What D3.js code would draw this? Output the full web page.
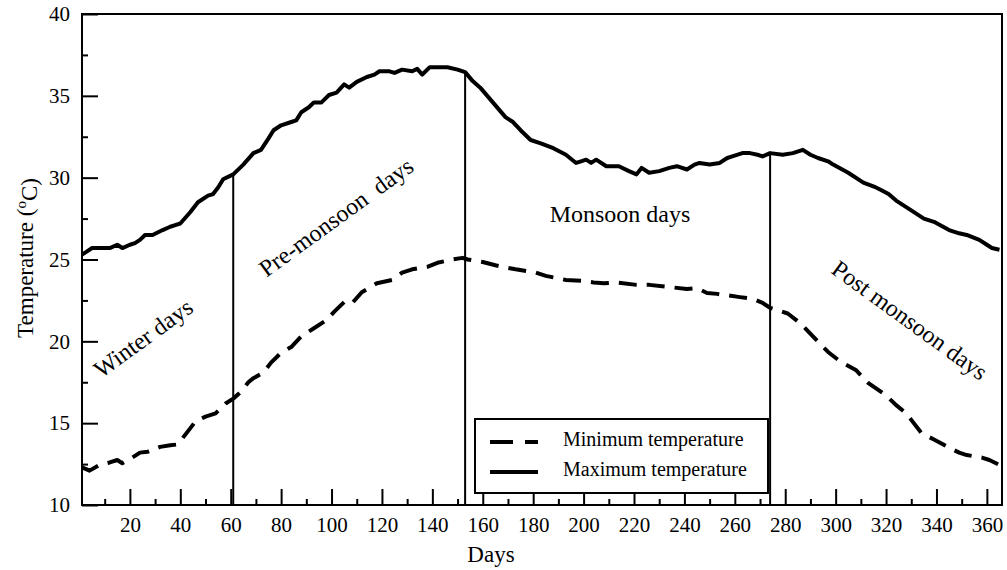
<!DOCTYPE html>
<html>
<head>
<meta charset="utf-8">
<script src="https://cdn.jsdelivr.net/npm/d3@7"></script>
<style>
  body { margin: 0; background: #fff; }
  text { font-family: "Liberation Serif", "Times New Roman", serif; fill: #000; }
</style>
</head>
<body>
<div id="chart"></div>
<script>
// values
var maxDays = [1, 3, 5, 9, 12, 15, 17, 20, 22, 24, 26, 29, 33, 36, 38, 40, 44, 47, 51, 53, 55, 57, 61, 65, 69, 72, 75, 77, 80, 84, 86, 88, 91, 93, 96, 99, 102, 105, 107, 110, 114, 117, 119, 123, 125, 128, 132, 134, 136, 139, 143, 146, 150, 153, 156, 159, 164, 169, 172, 175, 179, 183, 188, 193, 197, 199, 201, 203, 205, 209, 214, 218, 221, 223, 226, 230, 234, 237, 241, 244, 246, 250, 254, 257, 259, 263, 266, 269, 271, 274, 279, 283, 287, 290, 293, 297, 299, 305, 311, 316, 318, 321, 324, 330, 335, 339, 345, 349, 352, 357, 360, 362, 365];
var maxTemp = [25.3, 25.5, 25.7, 25.7, 25.7, 25.9, 25.7, 25.9, 26.0, 26.2, 26.5, 26.5, 26.8, 27.0, 27.1, 27.2, 27.9, 28.5, 28.9, 29.0, 29.4, 29.9, 30.2, 30.8, 31.5, 31.7, 32.4, 32.9, 33.2, 33.4, 33.5, 34.0, 34.3, 34.6, 34.6, 35.05, 35.2, 35.7, 35.5, 35.85, 36.15, 36.3, 36.5, 36.5, 36.4, 36.6, 36.5, 36.65, 36.3, 36.75, 36.75, 36.75, 36.6, 36.45, 35.9, 35.5, 34.6, 33.7, 33.4, 32.9, 32.3, 32.1, 31.8, 31.4, 30.9, 31.0, 31.1, 30.9, 31.1, 30.7, 30.7, 30.4, 30.2, 30.6, 30.3, 30.4, 30.6, 30.7, 30.5, 30.8, 30.9, 30.8, 30.9, 31.2, 31.3, 31.5, 31.5, 31.4, 31.3, 31.5, 31.4, 31.5, 31.7, 31.4, 31.2, 31.0, 30.8, 30.3, 29.7, 29.4, 29.25, 29.0, 28.6, 28.0, 27.5, 27.3, 26.8, 26.6, 26.5, 26.2, 25.9, 25.7, 25.6];

var minDays = [1, 4, 8, 12, 15, 17, 21, 24, 27, 32, 36, 39, 42, 46, 50, 54, 58, 61, 64, 67, 69, 73, 76, 80, 84, 88, 93, 98, 101, 105, 108, 112, 118, 124, 128, 132, 136, 138, 142, 148, 152, 154, 160, 165, 168, 173, 181, 185, 193, 199, 204, 208, 213, 221, 226, 235, 241, 245, 249, 253, 262, 267, 271, 274, 281, 286, 291, 297, 302, 308, 313, 320, 324, 328, 330, 334, 339, 345, 349, 352, 358, 361, 365];
var minTemp = [12.3, 12.1, 12.45, 12.6, 12.75, 12.55, 12.9, 13.2, 13.25, 13.55, 13.65, 13.7, 14.3, 15.1, 15.4, 15.6, 16.2, 16.5, 16.9, 17.5, 17.75, 18.1, 18.7, 19.3, 19.65, 20.3, 20.8, 21.3, 21.8, 22.4, 22.3, 23.0, 23.55, 23.75, 24.2, 24.4, 24.5, 24.55, 24.8, 25.0, 25.1, 25.0, 24.85, 24.65, 24.55, 24.4, 24.2, 24.0, 23.75, 23.7, 23.6, 23.55, 23.6, 23.45, 23.45, 23.3, 23.2, 23.25, 22.95, 22.9, 22.7, 22.6, 22.35, 22.05, 21.7, 21.1, 20.3, 19.35, 18.75, 18.25, 17.45, 16.7, 16.1, 15.6, 15.2, 14.4, 14.0, 13.5, 13.2, 13.05, 12.9, 12.75, 12.45];

// season boundaries (day) and the max temperature where each line stops
var seasonDays = [61, 153, 274];
var seasonTops = [30.2, 36.45, 31.5];

var xTicks = d3.range(20, 361, 20);
var xMinor = d3.range(10, 361, 20);
var yTicks = d3.range(10, 41, 5);
var yMinor = d3.range(12.5, 40, 5);

var width = 1007, height = 570;
var plotL = 82, plotR = 1002, plotT = 14, plotB = 505;

var svg = d3.select("#chart").append("svg").attr("width", width).attr("height", height);

var x = d3.scaleLinear().domain([1, 366]).range([plotL, plotR]);
var y = d3.scaleLinear().domain([10, 40]).range([plotB, plotT]);

// axes, ticks pointing inward
svg.append("g").attr("transform", "translate(0," + plotB + ")")
    .call(d3.axisBottom(x).tickValues(xTicks).tickSizeInner(-16).tickSizeOuter(0).tickPadding(12));
svg.append("g").attr("transform", "translate(0," + plotB + ")")
    .call(d3.axisBottom(x).tickValues(xMinor).tickSizeInner(-6).tickSizeOuter(0).tickFormat(""));
svg.append("g").attr("transform", "translate(" + plotL + ",0)")
    .call(d3.axisLeft(y).tickValues(yTicks).tickSizeInner(-16).tickSizeOuter(0).tickPadding(12));
svg.append("g").attr("transform", "translate(" + plotL + ",0)")
    .call(d3.axisLeft(y).tickValues(yMinor).tickSizeInner(-6).tickSizeOuter(0).tickFormat(""));

svg.selectAll(".domain").remove();
svg.selectAll(".tick line").attr("stroke", "#000").attr("stroke-width", 2);
svg.selectAll(".tick text").style("font-family", "'Liberation Serif', serif").style("font-size", "21px").attr("fill", "#000");

// frame
svg.append("rect")
    .attr("x", plotL).attr("y", plotT)
    .attr("width", plotR - plotL).attr("height", plotB - plotT)
    .attr("fill", "none").attr("stroke", "#000").attr("stroke-width", 2);

// season lines
svg.append("g").selectAll("line").data(seasonDays).enter().append("line")
    .attr("x1", function(d){ return x(d); })
    .attr("x2", function(d){ return x(d); })
    .attr("y1", function(d, i){ return y(seasonTops[i]); })
    .attr("y2", plotB)
    .attr("stroke", "#000").attr("stroke-width", 2);

var line = d3.line()
    .x(function(d){ return x(d[0]); })
    .y(function(d){ return y(d[1]); });

svg.append("path")
    .datum(d3.zip(maxDays, maxTemp))
    .attr("d", line)
    .attr("fill", "none").attr("stroke", "#000").attr("stroke-width", 4)
    .attr("stroke-linejoin", "round");

svg.append("path")
    .datum(d3.zip(minDays, minTemp))
    .attr("d", line)
    .attr("fill", "none").attr("stroke", "#000").attr("stroke-width", 4)
    .attr("stroke-dasharray", "18,10")
    .attr("stroke-linejoin", "round");

// season labels
function label(txt, cx, cy, angle){
  svg.append("text")
      .attr("transform", "translate(" + cx + "," + cy + ") rotate(" + angle + ")")
      .attr("text-anchor", "middle")
      .attr("dy", "0.35em")
      .style("font-size", "24px")
      .style("white-space", "pre")
      .text(txt);
}
label("Winter days", 143, 338, -36);
label("Pre-monsoon  days", 336, 217, -36);
label("Monsoon days", 620, 214, 0);
label("Post monsoon days", 910, 320, 36);

// axis titles
svg.append("text")
    .attr("x", 491).attr("y", 562)
    .attr("text-anchor", "middle")
    .style("font-size", "23px")
    .text("Days");

var yt = svg.append("text")
    .attr("transform", "translate(33,258) rotate(-90)")
    .attr("text-anchor", "middle")
    .style("font-size", "23px");
yt.append("tspan").text("Temperature (");
yt.append("tspan").attr("dy", "-0.45em").style("font-size", "15px").text("o");
yt.append("tspan").attr("dy", "0.45em").text("C)");

// legend
var lg = svg.append("g");
lg.append("rect")
    .attr("x", 475).attr("y", 419).attr("width", 293).attr("height", 74)
    .attr("fill", "#fff").attr("stroke", "#000").attr("stroke-width", 2);
lg.append("line")
    .attr("x1", 490).attr("x2", 538).attr("y1", 442).attr("y2", 442)
    .attr("stroke", "#000").attr("stroke-width", 4).attr("stroke-dasharray", "23,12");
lg.append("line")
    .attr("x1", 490).attr("x2", 538).attr("y1", 472).attr("y2", 472)
    .attr("stroke", "#000").attr("stroke-width", 4);
lg.append("text").attr("x", 563).attr("y", 446).style("font-size", "20px").text("Minimum temperature");
lg.append("text").attr("x", 563).attr("y", 476).style("font-size", "20px").text("Maximum temperature");
</script>
</body>
</html>
